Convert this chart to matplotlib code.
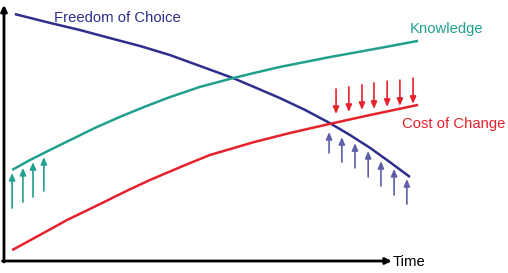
import matplotlib
matplotlib.use('Agg')
import matplotlib.pyplot as plt

# Schematic values: time (x-axis = 0..100) vs. level (y-axis = 0..100)
freedom_t = [2.8, 11.9, 19.6, 27.4, 35.1, 42.9, 50.6, 59.2, 64.6, 71.3,
             77.8, 84.2, 89.4, 94.6, 99.7, 104.9]
freedom_y = [97.6, 94.1, 91.3, 88.1, 85.0, 81.4, 77.1, 72.3, 68.8, 64.4,
             59.7, 54.5, 49.8, 44.7, 39.1, 33.2]

knowledge_t = [2.1, 6.7, 11.9, 17.1, 23.5, 30.0, 36.4, 42.9, 50.6, 59.2,
               64.6, 71.3, 84.2, 97.2, 107.0]
knowledge_y = [36.0, 39.9, 43.9, 47.8, 52.6, 57.0, 61.0, 64.8, 68.8, 72.3,
               74.3, 76.7, 80.6, 84.2, 87.0]

cost_t = [2.1, 9.3, 16.3, 24.8, 31.8, 37.7, 46.3, 53.2, 64.6, 73.9, 84.2,
          94.6, 107.0]
cost_y = [4.3, 10.3, 16.2, 22.5, 27.8, 32.0, 37.6, 41.9, 47.0, 50.6, 54.2,
          57.7, 61.7]

# pressure arrows: position, tail level, head level
know_arr_t = [2.1, 4.9, 7.5, 10.3]
know_arr_from = [20.9, 23.3, 25.3, 27.7]
know_arr_to = [34.8, 36.8, 39.1, 41.1]

cost_arr_t = [85.8, 89.1, 92.5, 95.6, 99.0, 102.3, 105.7]
cost_arr_from = [68.0, 68.8, 69.6, 70.4, 71.1, 71.5, 72.3]
cost_arr_to = [58.1, 58.9, 59.7, 60.1, 60.9, 61.3, 62.1]

free_arr_t = [84.0, 87.3, 90.7, 94.1, 97.4, 100.8, 104.1]
free_arr_from = [42.7, 39.1, 36.8, 33.2, 29.6, 26.1, 22.5]
free_arr_to = [51.0, 49.0, 46.6, 43.5, 39.5, 36.4, 32.4]

navy = '#2e2e8c'
navy_light = '#5e5eaa'
teal = '#22a08e'
red = '#e5222b'

plt.rcParams['font.family'] = ['Liberation Sans', 'DejaVu Sans']
fs = 10.7

fig = plt.figure(figsize=(5.08, 2.73), dpi=100)
ax = fig.add_axes([0, 0, 1, 1])
ax.set_xlim(-1.03, 130.23)
ax.set_ylim(-4.74, 103.16)
ax.axis('off')

# Axes with arrowheads
ax.annotate('', xy=(0, 101.2), xytext=(0, -0.4),
            arrowprops=dict(arrowstyle='-|>', color='black', lw=2,
                            mutation_scale=9, shrinkA=0, shrinkB=0))
ax.annotate('', xy=(100.2, 0), xytext=(-0.4, 0),
            arrowprops=dict(arrowstyle='-|>', color='black', lw=2,
                            mutation_scale=9, shrinkA=0, shrinkB=0))

# Curves
ax.plot(freedom_t, freedom_y, color=navy, lw=1.8, solid_capstyle='butt',
        solid_joinstyle='round')
ax.plot(knowledge_t, knowledge_y, color=teal, lw=1.8, solid_capstyle='butt',
        solid_joinstyle='round')
ax.plot(cost_t, cost_y, color=red, lw=1.8, solid_capstyle='butt',
        solid_joinstyle='round')


def arrows(ts, froms, tos, color):
    for t, a, b in zip(ts, froms, tos):
        ax.annotate('', xy=(t, b), xytext=(t, a),
                    arrowprops=dict(arrowstyle='-|>,head_width=0.3,head_length=0.7',
                                    color=color, lw=1.2,
                                    mutation_scale=6, shrinkA=0, shrinkB=0))


arrows(know_arr_t, know_arr_from, know_arr_to, teal)
arrows(cost_arr_t, cost_arr_from, cost_arr_to, red)
arrows(free_arr_t, free_arr_from, free_arr_to, navy_light)

# Labels
ax.text(12.9, 94.5, 'Freedom of Choice', color=navy, fontsize=fs,
        va='baseline', ha='left')
ax.text(104.9, 90.1, 'Knowledge', color=teal, fontsize=fs,
        va='baseline', ha='left')
ax.text(102.8, 52.6, 'Cost of Change', color=red, fontsize=fs,
        va='baseline', ha='left')
ax.text(100.5, -2.0, 'Time', color='black', fontsize=fs,
        va='baseline', ha='left')

plt.savefig('out.png', dpi=100)
